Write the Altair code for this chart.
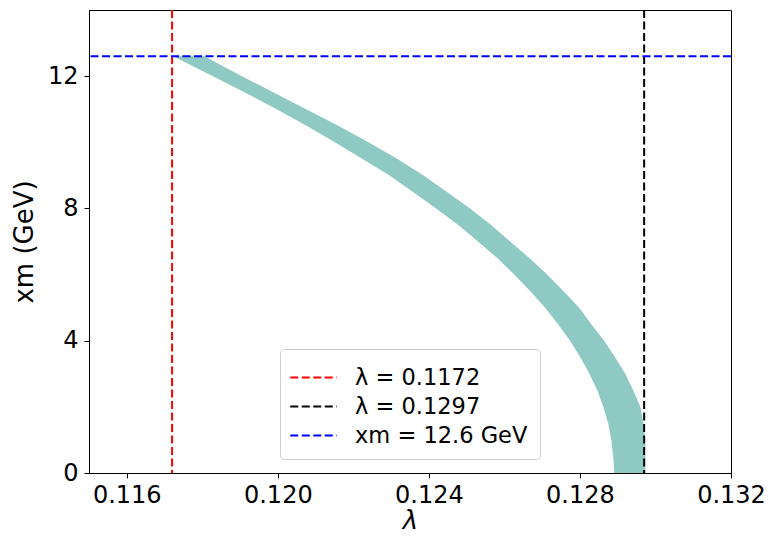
import altair as alt
import pandas as pd

# Band (allowed region): for each xm level, lower and upper lambda edge
xm_levels = [0, 0.5, 1, 1.5, 2, 2.5, 3, 3.5, 4, 4.5, 5, 5.5, 6, 6.5, 7, 7.5,
             8, 8.5, 9, 9.5, 10, 10.5, 11, 11.5, 12, 12.6]
lam_lower = [0.12891, 0.12888, 0.12883, 0.12875, 0.12862, 0.12846, 0.12825,
             0.12801, 0.12774, 0.12742, 0.12708, 0.12668, 0.12626, 0.12581,
             0.12530, 0.12478, 0.12419, 0.12358, 0.12295, 0.12223, 0.12151,
             0.12076, 0.11997, 0.11914, 0.11828, 0.11723]
lam_upper = [0.12973, 0.12973, 0.12973, 0.12968, 0.12960, 0.12941, 0.12920,
             0.12893, 0.12864, 0.12830, 0.12798, 0.12756, 0.12713, 0.12666,
             0.12615, 0.12565, 0.12509, 0.12448, 0.12385, 0.12316, 0.12240,
             0.12160, 0.12075, 0.11990, 0.11905, 0.11805]

line_labels = ["λ = 0.1172", "λ = 0.1297", "xm = 12.6 GeV"]
line_colors = ["#ff0000", "#000000", "#0000ff"]
vline_lambda = [0.1172, 0.1297]
hline_xm = [12.6]

x_ticks = [0.116, 0.120, 0.124, 0.128, 0.132]
y_ticks = [0, 4, 8, 12]

band_df = pd.DataFrame({"xm": xm_levels, "lo": lam_lower, "hi": lam_upper})
vdf = pd.DataFrame({"lam": vline_lambda, "label": line_labels[:2]})
hdf = pd.DataFrame({"xm": hline_xm, "label": line_labels[2:]})

FONT = "DejaVu Sans"
xscale = alt.Scale(domain=[0.115, 0.132], nice=False, zero=False)
yscale = alt.Scale(domain=[0, 14], nice=False, zero=False)
cscale = alt.Scale(domain=line_labels, range=line_colors)

xaxis = alt.Axis(values=x_ticks, format=".3f", title="λ", grid=False,
                 labelFontSize=24, titleFontSize=26, titleFontStyle="italic",
                 titleFontWeight="normal", labelFlush=False, labelOverlap=False,
                 tickSize=5, labelPadding=5, titlePadding=0,
                 domainColor="black", tickColor="black", labelColor="black",
                 titleColor="black", labelFont=FONT, titleFont=FONT)
yaxis = alt.Axis(values=y_ticks, format="d", title="xm (GeV)", grid=False,
                 labelFontSize=24, titleFontSize=26, titleFontWeight="normal",
                 labelFlush=False, labelOverlap=False,
                 tickSize=5, labelPadding=6, titlePadding=10,
                 domainColor="black", tickColor="black", labelColor="black",
                 titleColor="black", labelFont=FONT, titleFont=FONT)

legend = alt.Legend(title=None, orient="none", legendX=191, legendY=339,
                    symbolType="M-1.5,0L1.5,0", symbolSize=961,
                    symbolStrokeWidth=2, symbolDash=[8, 3.5], symbolOffset=5,
                    labelOffset=25, labelFontSize=22.5, labelFont=FONT,
                    labelColor="black", labelLimit=400, padding=12,
                    rowPadding=1,
                    fillColor="rgba(255,255,255,0.8)", strokeColor="#cccccc",
                    cornerRadius=4)

band = alt.Chart(band_df).mark_area(orient="horizontal", color="#8fc9c4",
                                    opacity=1).encode(
    y=alt.Y("xm:Q", scale=yscale, axis=yaxis),
    x=alt.X("lo:Q", scale=xscale, axis=xaxis),
    x2="hi:Q",
)

vrules = alt.Chart(vdf).mark_rule(strokeWidth=2, strokeDash=[8, 3.5]).encode(
    x=alt.X("lam:Q", scale=xscale),
    color=alt.Color("label:N", scale=cscale, legend=legend, sort=line_labels),
)

hrule = alt.Chart(hdf).mark_rule(strokeWidth=2, strokeDash=[8, 3.5]).encode(
    y=alt.Y("xm:Q", scale=yscale),
    color=alt.Color("label:N", scale=cscale, legend=legend, sort=line_labels),
)

chart = alt.layer(band, vrules, hrule).properties(
    width=642, height=463,
    padding={"left": 81, "top": 2, "right": 35, "bottom": 56},
    autosize=alt.AutoSizeParams(type="none"),
).configure(
    font=FONT, background="white"
).configure_view(stroke="black", strokeWidth=1, strokeOpacity=1)

chart.save("out.html", embed_options={"renderer": "svg", "actions": False})
